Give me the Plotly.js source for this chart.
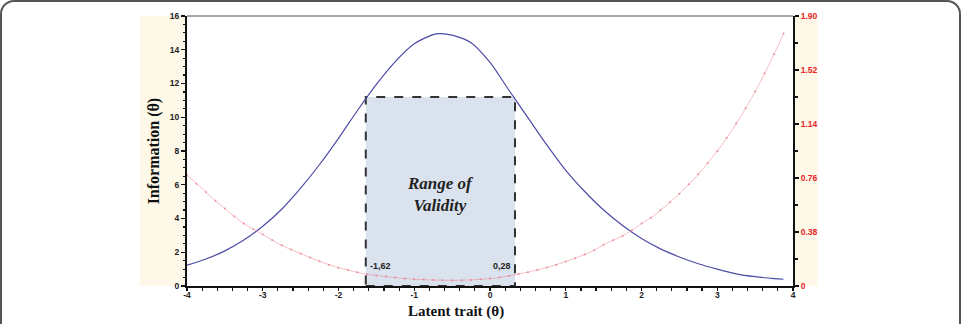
<!DOCTYPE html>
<html><head><meta charset="utf-8">
<script src="https://cdn.plot.ly/plotly-3.0.1.min.js"></script>
<style>
html,body{margin:0;padding:0;background:#fff;overflow:hidden;}
#frame{position:absolute;left:0;top:0;width:957px;height:400px;border:2px solid #555;border-radius:14px;}
#chart{position:absolute;left:0;top:0;width:963px;height:324px;}
</style></head>
<body><div id="frame"></div><div id="chart"></div>
<script>
// Test information function (left axis)
const infoTheta = [-4.00,-3.75,-3.50,-3.25,-3.00,-2.75,-2.50,-2.25,-2.00,-1.75,-1.50,-1.25,-1.00,-0.75,-0.66,-0.50,-0.25,0.00,0.25,0.50,0.75,1.00,1.25,1.50,1.75,2.00,2.25,2.50,2.75,3.00,3.25,3.50,3.75,3.875];
const infoValues = [1.23,1.60,2.08,2.72,3.54,4.55,5.80,7.20,8.75,10.40,11.95,13.30,14.35,14.90,14.96,14.87,14.42,13.25,11.60,9.98,8.36,6.85,5.60,4.50,3.58,2.81,2.20,1.72,1.32,1.00,0.72,0.55,0.44,0.40];
// Standard error curve (right axis)
const seTheta = [-4.000,-3.875,-3.750,-3.625,-3.500,-3.375,-3.250,-3.125,-3.000,-2.875,-2.750,-2.625,-2.500,-2.375,-2.250,-2.125,-2.000,-1.875,-1.750,-1.625,-1.500,-1.375,-1.250,-1.125,-1.000,-0.875,-0.750,-0.625,-0.500,-0.375,-0.250,-0.125,0.000,0.125,0.250,0.375,0.500,0.625,0.750,0.875,1.000,1.125,1.250,1.375,1.500,1.625,1.750,1.875,2.000,2.125,2.250,2.375,2.500,2.625,2.750,2.875,3.000,3.125,3.250,3.375,3.500,3.625,3.750,3.875];
const seValues = [0.779,0.720,0.661,0.600,0.545,0.490,0.439,0.400,0.362,0.323,0.286,0.256,0.228,0.200,0.174,0.150,0.129,0.112,0.096,0.082,0.074,0.066,0.059,0.053,0.048,0.045,0.042,0.041,0.040,0.041,0.043,0.047,0.052,0.060,0.071,0.085,0.097,0.113,0.130,0.150,0.172,0.196,0.222,0.252,0.290,0.322,0.352,0.392,0.439,0.481,0.533,0.589,0.650,0.716,0.786,0.866,0.948,1.041,1.143,1.250,1.368,1.495,1.630,1.776];
// Range of validity
const rangeLow = -1.64;   // drawn position
const rangeHigh = 0.33;
const rangeTop = 11.2;
const rangeLabels = ['-1,62','0,28'];
const xTicks = [-4,-3,-2,-1,0,1,2,3,4];
const xTickText = ['-4','-3','-2','-1','0','1','2','3','4'];
const yTicks = [0,2,4,6,8,10,12,14,16];
const y2Ticks = [0,0.38,0.76,1.14,1.52,1.90];
const y2TickText = ['0','0.38','0.76','1.14','1.52','1.90'];

const traces = [
  {x:infoTheta, y:infoValues, type:'scatter', mode:'lines', line:{color:'#4c4ca6', width:1.2, shape:'spline', smoothing:0.8}, yaxis:'y', hoverinfo:'skip'},
  {x:seTheta, y:seValues, type:'scatter', mode:'lines+markers', line:{color:'rgba(240,140,150,0.7)', width:0.8, shape:'spline'}, marker:{size:2, color:'rgba(232,120,135,0.8)'}, yaxis:'y2', hoverinfo:'skip'}
];
const layout = {
  width:963, height:324,
  margin:{l:187, r:170, t:16, b:38},
  paper_bgcolor:'rgba(0,0,0,0)', plot_bgcolor:'rgba(0,0,0,0)',
  showlegend:false,
  xaxis:{range:[-4,4], tickvals:xTicks, ticktext:xTickText, ticks:'outside', ticklen:3, tickwidth:1.2, tickcolor:'#111',
    showline:true, linecolor:'#111', linewidth:2, showgrid:false, zeroline:false, ticklabelstandoff:-3,
    tickfont:{family:'Liberation Sans, Arial', size:8.5, color:'#222', weight:'bold'},
    minor:{dtick:0.2, ticks:'outside', ticklen:3, tickcolor:'#111', showgrid:false}},
  yaxis:{range:[0,16], tickvals:yTicks, ticks:'outside', ticklen:4, tickwidth:1.2, tickcolor:'#111',
    showline:true, linecolor:'#111', linewidth:2, showgrid:false, zeroline:false,
    tickfont:{family:'Liberation Sans, Arial', size:8.5, color:'#222', weight:'bold'},
    minor:{dtick:0.5, ticks:'outside', ticklen:2.5, tickcolor:'#111', showgrid:false}},
  yaxis2:{range:[0,1.9], overlaying:'y', side:'right', tickvals:y2Ticks, ticktext:y2TickText,
    ticks:'outside', ticklen:4, tickwidth:1.2, tickcolor:'#111', showline:true, linecolor:'#111', linewidth:2,
    showgrid:false, zeroline:false,
    tickfont:{family:'Liberation Sans, Arial', size:8.5, color:'#e8242a', weight:'bold'},
    minor:{dtick:0.19, ticks:'outside', ticklen:2.5, tickcolor:'#111', showgrid:false}},
  shapes:[
    {type:'rect', xref:'paper', yref:'paper', x0:-0.0776, x1:0, y0:0, y1:1, fillcolor:'#fdf8e8', line:{width:0}, layer:'below'},
    {type:'rect', xref:'paper', yref:'paper', x0:1.003, x1:1.041, y0:0, y1:1, fillcolor:'#fdf8e8', line:{width:0}, layer:'below'},
    {type:'rect', xref:'x', yref:'y', x0:rangeLow, x1:rangeHigh, y0:0, y1:rangeTop, fillcolor:'#dae2ee', line:{color:'#333', width:2, dash:'dash'}, layer:'below'},
    {type:'line', xref:'paper', yref:'paper', x0:0, x1:1, y0:1, y1:1, line:{color:'#a8a8a8', width:2}}
  ],
  annotations:[
    {x:-0.45, y:-0.093, xref:'x', yref:'paper', yanchor:'middle', showarrow:false,
     text:'<b>Latent trait (θ)</b>', font:{family:'Liberation Serif, Times New Roman', size:15, color:'#111'}},
    {x:-0.072, y:0.5, xref:'paper', yref:'paper', showarrow:false, textangle:-90,
     text:'<b>Information (θ)</b>', font:{family:'Liberation Serif, Times New Roman', size:16, color:'#111'}},
    {x:(rangeLow+rangeHigh)/2, y:5.4, xref:'x', yref:'y', showarrow:false,
     text:'<b><i>Range of<br>Validity</i></b>', font:{family:'Liberation Serif, Times New Roman', size:17, color:'#222'}},
    {x:rangeLow+0.03, y:1.2, xref:'x', yref:'y', xanchor:'left', showarrow:false,
     text:'<b>'+rangeLabels[0]+'</b>', font:{family:'Liberation Sans, Arial', size:9, color:'#222'}},
    {x:rangeHigh-0.03, y:1.2, xref:'x', yref:'y', xanchor:'right', showarrow:false,
     text:'<b>'+rangeLabels[1]+'</b>', font:{family:'Liberation Sans, Arial', size:9, color:'#222'}}
  ]
};
Plotly.newPlot('chart', traces, layout, {staticPlot:true, displayModeBar:false});
</script></body></html>
